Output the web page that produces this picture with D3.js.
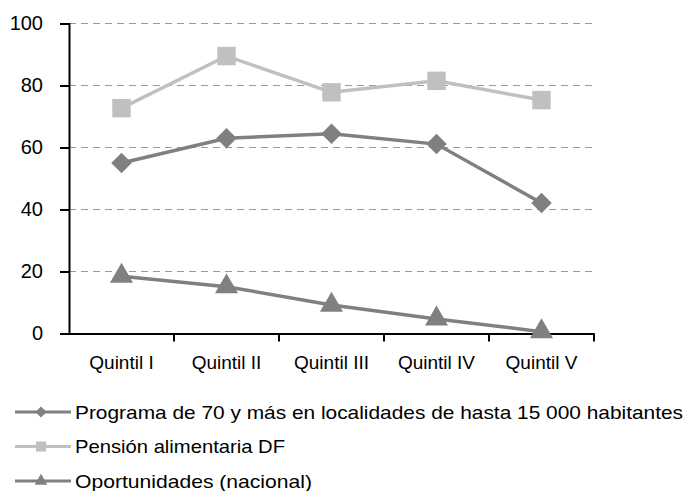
<!DOCTYPE html>
<html>
<head>
<meta charset="utf-8">
<script src="https://cdn.jsdelivr.net/npm/d3@7"></script>
<style>
  body { margin:0; background:#fff; }
  text { font-family: "Liberation Sans", Arial, sans-serif; fill:#000; }
</style>
</head>
<body>
<div class="chart"></div>
<script>
let quintiles = ["Quintil I","Quintil II","Quintil III","Quintil IV","Quintil V"];
let programa = [55, 63, 64.4, 61.1, 42.1];
let pension = [72.7, 89.5, 77.8, 81.5, 75.3];
let oportunidades = [18.5, 15.1, 9.2, 4.7, 0.6];
let yTicks = [0, 20, 40, 60, 80, 100];
let seriesNames = ["Programa de 70 y más en localidades de hasta 15 000 habitantes","Pensión alimentaria DF","Oportunidades (nacional)"];
let legendWidths = [608, 210, 237];

let width = 686, height = 491;
let margin = {left:69, top:23.5, right:92, bottom:157.5};

let svg = d3.select(".chart").append("svg").attr("width",width).attr("height",height);

let xScale = d3.scaleBand().domain(quintiles).range([margin.left, width-margin.right]);
let yScale = d3.scaleLinear().domain([0,100]).range([height-margin.bottom, margin.top]);

// grid
svg.append("g").selectAll("line").data(yTicks.filter(d => d>0)).enter().append("line")
   .attr("x1",margin.left).attr("x2",width-margin.right)
   .attr("y1",d => yScale(d)).attr("y2",d => yScale(d))
   .attr("stroke","#999").attr("stroke-width",1.2).attr("stroke-dasharray","7,5");

let yAxis = d3.axisLeft(yScale).tickValues(yTicks).tickSize(9).tickPadding(17);
let gy = svg.append("g").attr("transform","translate("+margin.left+",0)").call(yAxis);
gy.selectAll("text").style("font-size","20px").attr("font-family","Liberation Sans");
gy.selectAll("line,path").attr("stroke","#000").attr("stroke-width",2);

let xAxis = d3.axisBottom(xScale).tickSize(0).tickPadding(22);
let gx = svg.append("g").attr("transform","translate(0,"+yScale(0)+")").call(xAxis);
gx.select("path").attr("stroke","#000").attr("stroke-width",2);
gx.selectAll("text").style("font-size","19px").attr("dy","0.72em");
// ticks between categories
gx.selectAll(".sep").data(quintiles).enter().append("line")
   .attr("x1",d => xScale(d)+xScale.bandwidth()).attr("x2",d => xScale(d)+xScale.bandwidth())
   .attr("y1",0).attr("y2",8).attr("stroke","#000").attr("stroke-width",2);
gy.select("path").raise();

let line = d3.line().x((d,i) => xScale(quintiles[i])+xScale.bandwidth()/2).y(d => yScale(d));

let series = [
  {name:seriesNames[0], values:programa, color:"#808080", symbol:d3.symbolSquare, size:210, rot:45},
  {name:seriesNames[1], values:pension, color:"#c0c0c0", symbol:d3.symbolSquare, size:340, rot:0},
  {name:seriesNames[2], values:oportunidades, color:"#808080", symbol:d3.symbolTriangle, size:230, rot:0}
];

series.forEach(s => {
  let g = svg.append("g");
  g.append("path").attr("d",line(s.values)).attr("fill","none").attr("stroke",s.color).attr("stroke-width",3.5);
  g.selectAll("path.m").data(s.values).enter().append("path").attr("class","m")
   .attr("d",d3.symbol().type(s.symbol).size(s.size))
   .attr("transform",(d,i) => "translate("+(xScale(quintiles[i])+xScale.bandwidth()/2)+","+yScale(d)+")rotate("+s.rot+")")
   .attr("fill",s.color);
});

// legend
let legend = svg.append("g");
series.forEach((s,i) => {
  let y = 412 + i*34.5;
  let g = legend.append("g").attr("transform","translate(0,"+y+")");
  g.append("line").attr("x1",15).attr("x2",71).attr("y1",0).attr("y2",0).attr("stroke",s.color).attr("stroke-width",3);
  g.append("path").attr("d",d3.symbol().type(s.symbol).size(s.size*0.3))
   .attr("transform","translate(41,0)rotate("+s.rot+")").attr("fill",s.color);
  g.append("text").attr("x",75).attr("y",6.5).style("font-size","19px")
   .attr("textLength",legendWidths[i]).attr("lengthAdjust","spacingAndGlyphs").text(s.name);
});
</script>
</body>
</html>
